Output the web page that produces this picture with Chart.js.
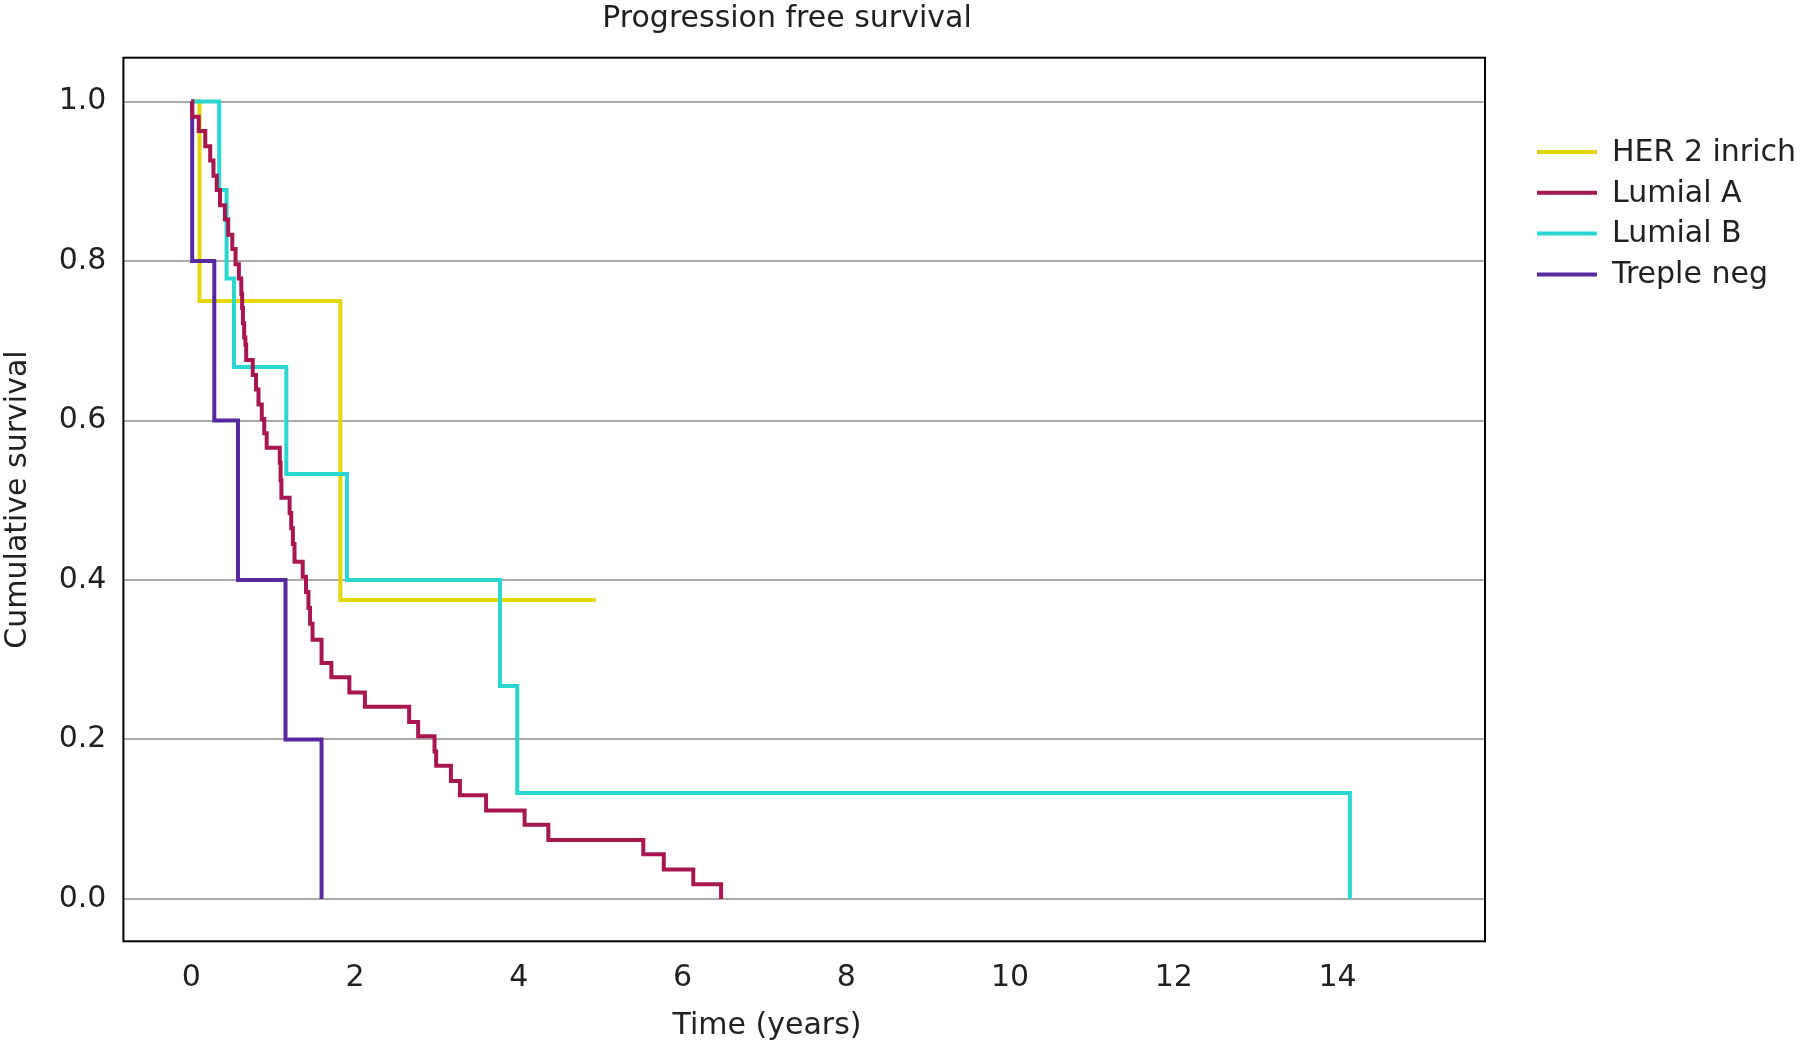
<!DOCTYPE html>
<html><head><meta charset="utf-8">
<script src="https://cdn.jsdelivr.net/npm/chart.js@4"></script>
<style>html,body{margin:0;padding:0;background:#fff;overflow:hidden}canvas{display:block}</style>
</head><body>
<canvas id="c" width="1803" height="1049" style="width:1803px;height:1049px"></canvas>
<script>
// ---- data ----
const seriesNames = ['HER 2 inrich', 'Lumial A', 'Lumial B', 'Treple neg'];

const herTimes  = [0, 0.10, 1.82, 4.94];
const herValues = [1.0, 0.75, 0.375, 0.375];

const lumATimes = [0, 0.01, 0.09, 0.17, 0.23, 0.27, 0.31, 0.35, 0.41, 0.45,
                   0.50, 0.54, 0.58, 0.61, 0.62, 0.63, 0.645, 0.66, 0.67, 0.75,
                   0.79, 0.82, 0.86, 0.89, 0.92, 1.08, 1.09, 1.10, 1.20, 1.22,
                   1.24, 1.26, 1.36, 1.40, 1.43, 1.45, 1.48, 1.59, 1.71, 1.93,
                   2.12, 2.66, 2.77, 2.97, 2.99, 3.17, 3.28, 3.60, 4.07, 4.36,
                   5.52, 5.77, 6.13, 6.47];
const lumAValues = [1.0, 0.981, 0.963, 0.944, 0.926, 0.907, 0.889, 0.870, 0.852, 0.833,
                    0.815, 0.796, 0.778, 0.759, 0.741, 0.722, 0.704, 0.695, 0.676, 0.657,
                    0.639, 0.620, 0.602, 0.584, 0.566, 0.547, 0.525, 0.503, 0.484, 0.465,
                    0.445, 0.423, 0.404, 0.385, 0.365, 0.345, 0.325, 0.296, 0.278, 0.259,
                    0.241, 0.222, 0.204, 0.185, 0.167, 0.148, 0.130, 0.111, 0.093, 0.074,
                    0.056, 0.037, 0.0185, 0];

const lumBTimes  = [0, 0.34, 0.43, 0.52, 1.16, 1.90, 3.77, 3.98, 14.15];
const lumBValues = [1.0, 0.889, 0.778, 0.667, 0.533, 0.400, 0.267, 0.133, 0];

const tripTimes  = [0, 0.01, 0.28, 0.57, 1.15, 1.59];
const tripValues = [1.0, 0.8, 0.6, 0.4, 0.2, 0];

const xTickValues = [0, 2, 4, 6, 8, 10, 12, 14];
const yTickValues = [0.0, 0.2, 0.4, 0.6, 0.8, 1.0];

const titleText = 'Progression free survival';
const xTitle = 'Time (years)';
const yTitle = 'Cumulative survival';

// ---- styles ----
const FONT = '"DejaVu Sans", Verdana, sans-serif';
const TXT = '#231f20';
const colors = ['#e5d60a', '#a81650', '#2ad6d0', '#5828a0'];

const pts = (t, v) => t.map((x, i) => ({x: x, y: v[i]}));
const seriesData = [pts(herTimes, herValues), pts(lumATimes, lumAValues), pts(lumBTimes, lumBValues), pts(tripTimes, tripValues)];
const drawOrder = [4, 1, 3, 2];

const datasets = seriesNames.map((n, i) => ({
  label: n,
  data: seriesData[i],
  borderColor: colors[i],
  backgroundColor: colors[i],
  borderWidth: 4,
  stepped: 'before',
  pointRadius: 0,
  pointHoverRadius: 0,
  fill: false,
  tension: 0,
  borderJoinStyle: 'miter',
  borderCapStyle: 'butt',
  order: drawOrder[i]
}));

const overlay = {
  id: 'overlay',
  afterDraw(chart) {
    const ctx = chart.ctx, a = chart.chartArea;
    ctx.save();
    ctx.strokeStyle = '#000';
    ctx.lineWidth = 2;
    ctx.strokeRect(a.left, a.top, a.right - a.left, a.bottom - a.top);
    ctx.fillStyle = TXT;
    ctx.font = '30px ' + FONT;
    ctx.textAlign = 'center';
    ctx.textBaseline = 'middle';
    ctx.fillText(titleText, 787, 19);
    ctx.fillText(xTitle, 767, 1026);
    ctx.textAlign = 'left';
    chart.data.datasets.forEach((ds, i) => {
      const y = 152 + i * 40.8;
      ctx.strokeStyle = ds.borderColor;
      ctx.lineWidth = 4;
      ctx.beginPath();
      ctx.moveTo(1537, y);
      ctx.lineTo(1597, y);
      ctx.stroke();
      ctx.fillStyle = TXT;
      ctx.fillText(ds.label, 1612, y + 1);
    });
    ctx.restore();
  }
};

new Chart(document.getElementById('c'), {
  type: 'line',
  data: { datasets },
  plugins: [overlay],
  options: {
    responsive: false,
    devicePixelRatio: 1,
    animation: false,
    events: [],
    layout: { padding: { left: 0, top: 57.7, right: 318, bottom: 0 } },
    plugins: { legend: { display: false }, title: { display: false }, tooltip: { enabled: false } },
    scales: {
      x: {
        type: 'linear', min: -0.83, max: 15.8,
        afterBuildTicks: s => { s.ticks = xTickValues.map(v => ({value: v})); },
        afterFit: s => { s.height = 107.7; },
        grid: { display: false, drawTicks: false },
        border: { display: false },
        ticks: { font: { family: FONT, size: 30 }, color: TXT, padding: 19, maxRotation: 0, autoSkip: false,
                 callback: v => String(Math.round(v)) },
        title: { display: false, text: xTitle }
      },
      y: {
        type: 'linear', min: -0.0531, max: 1.055,
        afterBuildTicks: s => { s.ticks = yTickValues.map(v => ({value: v})); },
        afterFit: s => { s.width = 123.4; },
        grid: { color: '#aaaaaa', lineWidth: 2, drawTicks: false },
        border: { display: false },
        ticks: { font: { family: FONT, size: 30 }, color: TXT, padding: 17, autoSkip: false,
                 callback: v => Number(v).toFixed(1) },
        title: { display: true, text: yTitle, color: TXT, font: { family: FONT, size: 30 }, padding: { top: 0, bottom: 0 } }
      }
    }
  }
});
</script>
</body></html>
